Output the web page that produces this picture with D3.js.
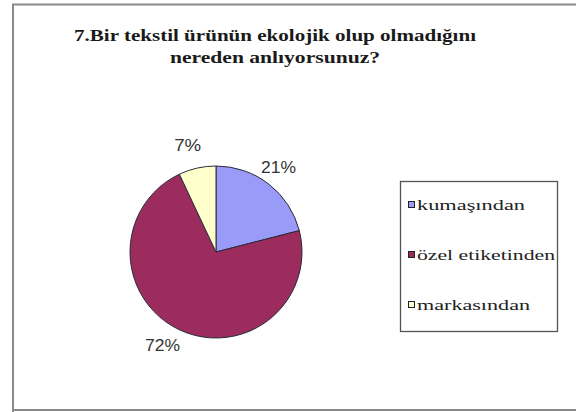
<!DOCTYPE html>
<html>
<head>
<meta charset="utf-8">
<script src="https://cdn.jsdelivr.net/npm/d3@7"></script>
<style>
  html, body { margin: 0; padding: 0; background: #fff; }
  svg { display: block; }
  .serif { font-family: "Liberation Serif", "DejaVu Serif", "Noto Serif", "Nimbus Roman", "FreeSerif", "Times New Roman", Times, serif; }
  .sans { font-family: "Liberation Sans", Arial, "DejaVu Sans", sans-serif; }
</style>
</head>
<body>
<svg id="chart" width="576" height="412"></svg>
<script>
// Survey answers: how respondents tell whether a textile product is ecological
const categories = ["kumaşından", "özel etiketinden", "markasından"];
const values = [21, 72, 7];
const valueLabels = ["21%", "72%", "7%"];
const colors = ["#9a9af8", "#9c2b5e", "#ffffcc"];
const titleLines = ["7.Bir tekstil ürünün ekolojik olup olmadığını", "nereden anlıyorsunuz?"];

const svg = d3.select("#chart");

// chart frame
svg.append("path")
  .attr("d", "M13,420 L13,4.5 L590,4.5 M13,410 L590,410")
  .attr("fill", "none")
  .attr("stroke", "#8a8a8a")
  .attr("stroke-width", 2);

// title
const titleWidths = [402, 210];
svg.selectAll("text.title")
  .data(titleLines)
  .join("text")
  .attr("class", "title serif")
  .attr("x", 275)
  .attr("y", (d, i) => 41 + i * 22)
  .attr("text-anchor", "middle")
  .attr("font-weight", "bold")
  .attr("font-size", 16)
  .attr("fill", "#1a1a1a")
  .attr("textLength", (d, i) => titleWidths[i])
  .attr("lengthAdjust", "spacingAndGlyphs")
  .text(d => d);

// pie
const cx = 216, cy = 252, r = 86;
const pie = d3.pie().sort(null).value(d => d.v);
const arcs = pie(values.map((v, i) => ({ v, i })));
const arc = d3.arc().innerRadius(0).outerRadius(r);

const g = svg.append("g").attr("transform", `translate(${cx},${cy})`);
g.selectAll("path.slice")
  .data(arcs)
  .join("path")
  .attr("class", "slice")
  .attr("d", arc)
  .attr("fill", d => colors[d.data.i])
  .attr("stroke", "#2a2a3a")
  .attr("stroke-width", 1);

// percentage labels, placed outside the pie along each slice's mid-angle
const labelArc = d3.arc().innerRadius(r + 21).outerRadius(r + 21);
const labelOffsets = [[-3, 0], [-8, -3], [-5, -2]];
g.selectAll("text.pct")
  .data(arcs)
  .join("text")
  .attr("class", "pct sans")
  .attr("transform", d => {
    const [x, y] = labelArc.centroid(d);
    const o = labelOffsets[d.data.i];
    return `translate(${x + o[0]},${y + o[1]})`;
  })
  .attr("text-anchor", "middle")
  .attr("dominant-baseline", "central")
  .attr("font-size", 16)
  .attr("fill", "#333")
  .attr("textLength", d => valueLabels[d.data.i].length === 3 ? 35 : 27)
  .attr("lengthAdjust", "spacingAndGlyphs")
  .text(d => valueLabels[d.data.i]);

// legend
const legend = svg.append("g");
legend.append("rect")
  .attr("x", 400.5).attr("y", 181.5)
  .attr("width", 157).attr("height", 150)
  .attr("fill", "#fff")
  .attr("stroke", "#555")
  .attr("stroke-width", 1.3);

const legendY = d3.scalePoint().domain(categories).range([205, 305]);
const legendWidths = [108, 138, 113];
const items = legend.selectAll("g.item")
  .data(categories)
  .join("g")
  .attr("class", "item")
  .attr("transform", d => `translate(0,${legendY(d)})`);
items.append("rect")
  .attr("x", 408.5).attr("y", -3.5)
  .attr("width", 6).attr("height", 6)
  .attr("fill", (d, i) => colors[i])
  .attr("stroke", "#222")
  .attr("stroke-width", 1);
items.append("text")
  .attr("class", "serif")
  .attr("x", 417)
  .attr("y", 0)
  .attr("dominant-baseline", "central")
  .attr("font-size", 15)
  .attr("fill", "#222")
  .attr("textLength", (d, i) => legendWidths[i])
  .attr("lengthAdjust", "spacingAndGlyphs")
  .text(d => d);
</script>
</body>
</html>
